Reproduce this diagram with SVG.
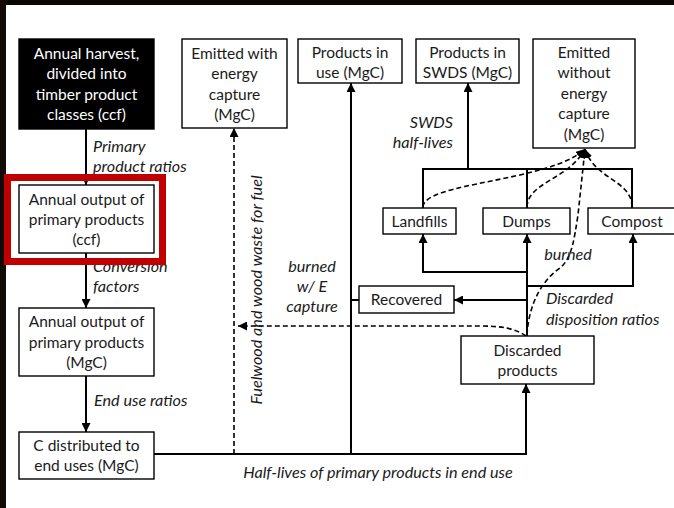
<svg xmlns="http://www.w3.org/2000/svg" width="674" height="508" viewBox="0 0 674 508">
  <defs>
    <marker id="arr" viewBox="0 0 10 10" refX="10" refY="5" markerWidth="9" markerHeight="9" markerUnits="userSpaceOnUse" orient="auto">
      <path d="M0,0 L10,5 L0,10 Z" fill="#000"/>
    </marker>
    <marker id="arrS" viewBox="0 0 10 10" refX="10" refY="5" markerWidth="6" markerHeight="6" markerUnits="userSpaceOnUse" orient="auto">
      <path d="M0,0 L10,5 L0,10 Z" fill="#000"/>
    </marker>
  </defs>
  <style>
    .box { fill: #fff; stroke: #000; stroke-width: 1.4; }
    .dark { fill: #000; stroke: #000; stroke-width: 1.4; }
    .t { font-family: Lato, "Liberation Sans", sans-serif; font-size: 15.5px; fill: #1a1a1a; text-anchor: middle; }
    .tw { fill: #fff; }
    .lab { font-family: Lato, "Liberation Sans", sans-serif; font-size: 16.2px; font-style: italic; fill: #1a1a1a; }
    .c { text-anchor: middle; }
    .solid { fill: none; stroke: #000; stroke-width: 2; }
    .dash { fill: none; stroke: #000; stroke-width: 1.6; stroke-dasharray: 5 3; }
  </style>

  <!-- page and frame -->
  <rect x="0" y="0" width="674" height="508" fill="#fff"/>
  <rect x="0" y="0" width="674" height="5" fill="#0a0604"/>
  <rect x="0" y="0" width="6" height="508" fill="#120a06"/>

  <!-- connectors -->
  <g id="connectors">
    <path class="solid" d="M86,129 V185" stroke-width="1.4" marker-end="url(#arrS)"/>
    <path class="solid" d="M86,253 V308" marker-end="url(#arr)"/>
    <path class="solid" d="M86,376 V432" marker-end="url(#arr)"/>
    <path class="solid" d="M154,454 H526 V384" marker-end="url(#arr)"/>
    <path class="solid" d="M351,454 V83" marker-end="url(#arr)"/>
    <path class="solid" d="M351,300 H359"/>
    <path class="dash" d="M234,454 V128" marker-end="url(#arr)"/>
    <path class="dash" d="M526,336 C515,328 500,326 480,326 L238,326" marker-end="url(#arr)"/>
    <!-- discarded products dispositions -->
    <path class="solid" d="M527,336 V234" marker-end="url(#arr)"/>
    <path class="solid" d="M527,272 H423 V234" marker-end="url(#arr)"/>
    <path class="solid" d="M527,286 H633 V234" marker-end="url(#arr)"/>
    <path class="solid" d="M527,300 H454" marker-end="url(#arr)"/>
    <!-- SWDS tree -->
    <path class="solid" d="M423,208 V169 H632 V208 M527,208 V169"/>
    <path class="solid" d="M468,169 V83" marker-end="url(#arr)"/>
    <!-- emissions without energy capture -->
    <path class="dash" d="M423,207 C424,182 550,182 585,149" marker-end="url(#arr)"/>
    <path class="dash" d="M527,207 C528,182 568,180 585,149" marker-end="url(#arr)"/>
    <path class="dash" d="M632,207 C632,180 595,180 585,149" marker-end="url(#arr)"/>
    <path class="dash" d="M527,335 C529,300 545,278 560,268 C572,258 574,240 578,215 L585,149" marker-end="url(#arr)"/>
  </g>

  <!-- nodes -->
  <g id="harvest">
    <rect class="dark" x="19" y="39" width="135" height="90"/>
    <text class="t tw" x="86.5" y="58.5">Annual harvest,</text>
    <text class="t tw" x="86.5" y="79">divided into</text>
    <text class="t tw" x="86.5" y="99.5">timber product</text>
    <text class="t tw" x="86.5" y="120">classes (ccf)</text>
  </g>
  <g id="emitted-with">
    <rect class="box" x="182" y="39" width="105" height="89"/>
    <text class="t" x="234.5" y="58.5">Emitted with</text>
    <text class="t" x="234.5" y="79">energy</text>
    <text class="t" x="234.5" y="99.5">capture</text>
    <text class="t" x="234.5" y="120">(MgC)</text>
  </g>
  <g id="products-in-use">
    <rect class="box" x="298" y="39" width="104" height="44"/>
    <text class="t" x="350" y="57.5">Products in</text>
    <text class="t" x="350" y="78">use (MgC)</text>
  </g>
  <g id="products-in-swds">
    <rect class="box" x="416" y="39" width="103" height="44"/>
    <text class="t" x="467.5" y="57.5">Products in</text>
    <text class="t" x="467.5" y="78">SWDS (MgC)</text>
  </g>
  <g id="emitted-without">
    <rect class="box" x="533" y="39" width="102" height="109"/>
    <text class="t" x="584" y="57.5">Emitted</text>
    <text class="t" x="584" y="78">without</text>
    <text class="t" x="584" y="98.5">energy</text>
    <text class="t" x="584" y="119">capture</text>
    <text class="t" x="584" y="139.5">(MgC)</text>
  </g>
  <g id="output-ccf">
    <rect class="box" x="19" y="185" width="135" height="68"/>
    <text class="t" x="86.5" y="204.5">Annual output of</text>
    <text class="t" x="86.5" y="224.5">primary products</text>
    <text class="t" x="86.5" y="245">(ccf)</text>
  </g>
  <g id="output-mgc">
    <rect class="box" x="19" y="308" width="135" height="68"/>
    <text class="t" x="86.5" y="327">Annual output of</text>
    <text class="t" x="86.5" y="347.5">primary products</text>
    <text class="t" x="86.5" y="368">(MgC)</text>
  </g>
  <g id="c-distributed">
    <rect class="box" x="19" y="432" width="135" height="47"/>
    <text class="t" x="86.5" y="450.5">C distributed to</text>
    <text class="t" x="86.5" y="471">end uses (MgC)</text>
  </g>
  <g id="landfills">
    <rect class="box" x="383" y="208" width="73" height="26"/>
    <text class="t" x="419.5" y="226.5">Landfills</text>
  </g>
  <g id="dumps">
    <rect class="box" x="483" y="208" width="87" height="26"/>
    <text class="t" x="526.5" y="226.5">Dumps</text>
  </g>
  <g id="compost">
    <rect class="box" x="588" y="208" width="90" height="26"/>
    <text class="t" x="632" y="226.5">Compost</text>
  </g>
  <g id="recovered">
    <rect class="box" x="359" y="286" width="95" height="27"/>
    <text class="t" x="406.5" y="305">Recovered</text>
  </g>
  <g id="discarded">
    <rect class="box" x="461" y="336" width="133" height="48"/>
    <text class="t" x="527.5" y="355.5">Discarded</text>
    <text class="t" x="527.5" y="376">products</text>
  </g>

  <!-- flow labels -->
  <g id="labels">
    <text class="lab" x="93" y="152">Primary</text>
    <text class="lab" x="93" y="172">product ratios</text>
    <text class="lab" x="93" y="272">Conversion</text>
    <text class="lab" x="93" y="292">factors</text>
    <text class="lab" x="94" y="406">End use ratios</text>
    <text class="lab c" x="378" y="478">Half-lives of primary products in end use</text>
    <text class="lab" x="453" y="128" text-anchor="end">SWDS</text>
    <text class="lab" x="453" y="148" text-anchor="end">half-lives</text>
    <text class="lab c" x="312" y="272">burned</text>
    <text class="lab c" x="312" y="292">w/ E</text>
    <text class="lab c" x="312" y="312">capture</text>
    <text class="lab c" x="568" y="260">burned</text>
    <text class="lab" x="546" y="304">Discarded</text>
    <text class="lab" x="546" y="325">disposition ratios</text>
    <text class="lab c" transform="translate(262,290) rotate(-90)">Fuelwood and wood waste for fuel</text>
  </g>

  <!-- highlight frame -->
  <rect x="7.5" y="177.5" width="155" height="84" fill="none" stroke="#c00000" stroke-width="7"/>
</svg>
